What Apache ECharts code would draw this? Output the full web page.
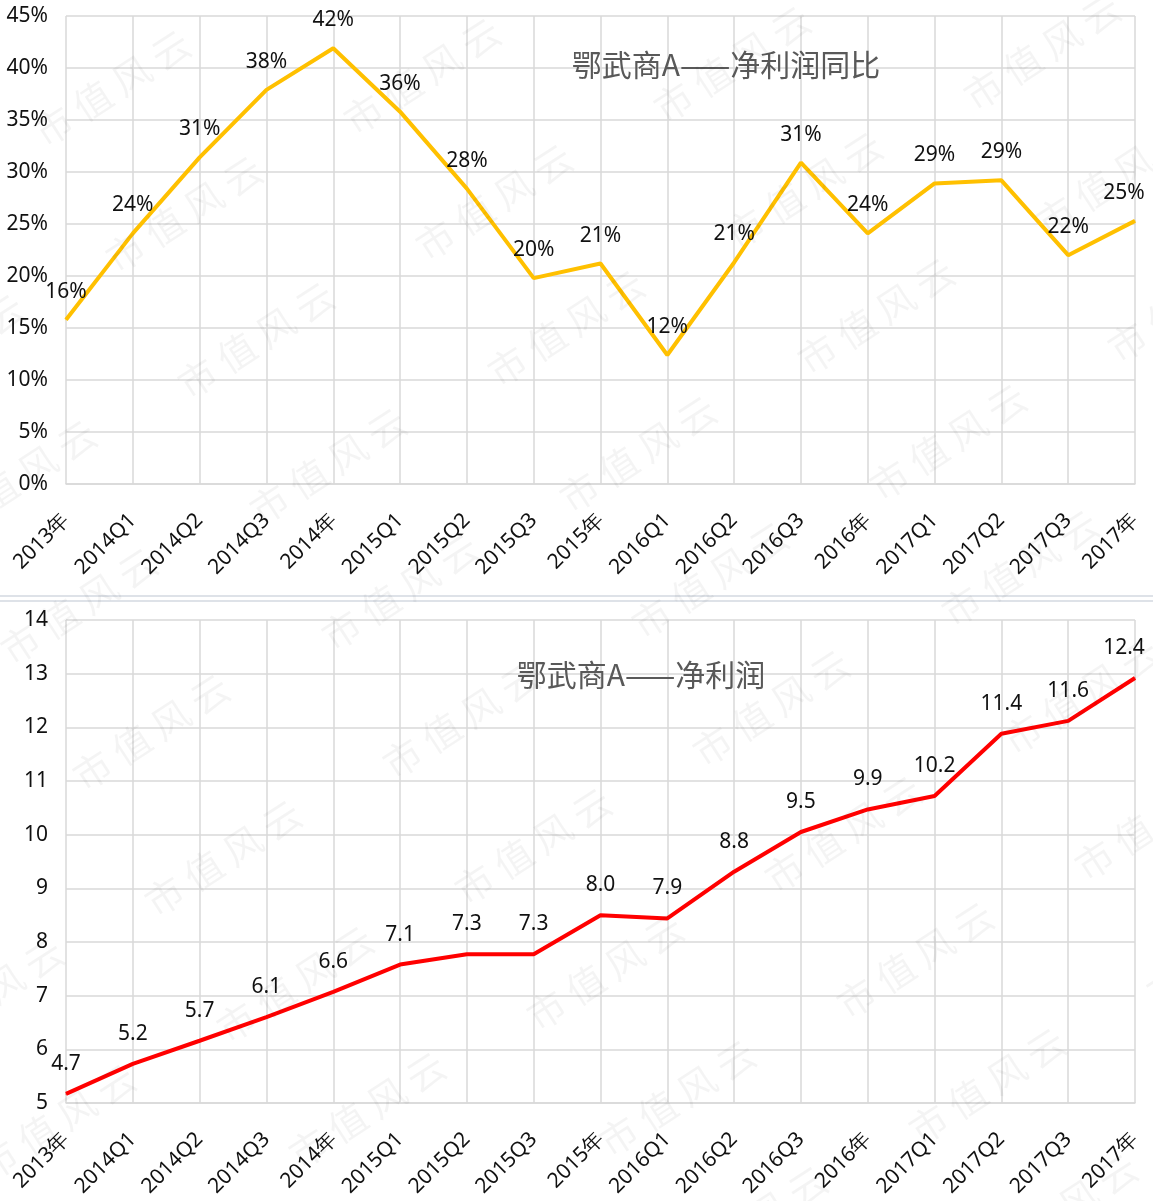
<!DOCTYPE html>
<html>
<head>
<meta charset="utf-8">
<title>鄂武商A 净利润</title>
<script src="https://cdn.jsdelivr.net/npm/echarts@6/dist/echarts.min.js"></script>
<style>
  html, body { margin: 0; padding: 0; background: #fff; }
  #main { width: 1153px; height: 1201px; }
</style>
</head>
<body>
<div id="main"></div>
<script>
"use strict"

// 横轴分类
const categories = ['2013年', '2014Q1', '2014Q2', '2014Q3', '2014年', '2015Q1', '2015Q2', '2015Q3', '2015年',
  '2016Q1', '2016Q2', '2016Q3', '2016年', '2017Q1', '2017Q2', '2017Q3', '2017年'];

// 净利润同比 (%)
const yoyGrowth = [15.8, 24.1, 31.4, 37.9, 41.9, 35.8, 28.4, 19.8, 21.2, 12.4, 21.3, 30.9, 24.1, 28.9, 29.2, 22.0, 25.3];

// 净利润: 折线所在位置 与 标注文字 (原图两者相差约0.5)
const profitLine = [5.17, 5.73, 6.16, 6.6, 7.07, 7.58, 7.77, 7.77, 8.5, 8.44, 9.31, 10.05, 10.47, 10.72, 11.88, 12.12, 12.92];
const profitLabels = [4.7, 5.2, 5.7, 6.1, 6.6, 7.1, 7.3, 7.3, 8.0, 7.9, 8.8, 9.5, 9.9, 10.2, 11.4, 11.6, 12.4];

const yoyTicks = [0, 45, 5];     // min, max, interval
const profitTicks = [5, 14, 1];

const FONT = 'Noto Sans';
const TXT = '#111';
const GRID = '#d9d9d9';

var chart = echarts.init(document.getElementById('main'));

function xAxisOf(gi) {
  return {
    type: 'category',
    gridIndex: gi,
    data: categories,
    boundaryGap: false,
    axisLine: { lineStyle: { color: GRID, width: 1.5 } },
    axisTick: { show: false },
    splitLine: { show: true, lineStyle: { color: GRID, width: 1.5 } },
    axisLabel: {
      rotate: 45, interval: 0, margin: 33, color: TXT,
      fontFamily: FONT, fontSize: 21
    }
  };
}

function yAxisOf(gi, t, fmt) {
  return {
    type: 'value',
    gridIndex: gi,
    min: t[0], max: t[1], interval: t[2],
    axisLine: { show: false },
    axisTick: { show: false },
    splitLine: { lineStyle: { color: GRID, width: 1.5 } },
    axisLabel: { margin: 18, color: TXT, fontFamily: FONT, fontSize: 21, formatter: fmt }
  };
}

function lastShift(arr) {
  return arr.map(function (v, i) {
    if (i === arr.length - 1) return { value: v, label: { offset: [-11, 0] } };
    return v;
  });
}

// 水印 市值风云
function watermarks() {
  var out = [];
  var blocks = [
    { ox: 112, oy: 88, ymin: -20, ymax: 600 },
    { ox: 151, oy: 732, ymin: 600, ymax: 1230 }
  ];
  blocks.forEach(function (b) {
    for (var i = -4; i <= 5; i++) {
      for (var j = -6; j <= 6; j++) {
        var x = b.ox + i * 310 + j * 72;
        var y = b.oy - i * 12 + j * 126;
        if (y < b.ymin || y > b.ymax || x < -80 || x > 1240) continue;
        out.push({
          type: 'text', x: x, y: y, rotation: 33 * Math.PI / 180, z: 100, silent: true,
          style: {
            text: '市 值 风 云', fill: 'rgba(0,0,0,0.045)', fontSize: 38,
            fontFamily: 'Noto Sans CJK SC', align: 'center', verticalAlign: 'middle'
          }
        });
      }
    }
  });
  return out;
}

var option = {
  backgroundColor: '#fff',
  animation: false,
  title: [
    {
      text: '鄂武商A——净利润同比', left: 721, top: 60, textAlign: 'center', textVerticalAlign: 'middle',
      textStyle: { color: '#595959', fontSize: 30, fontWeight: 'normal', fontFamily: 'Noto Sans CJK SC' }
    },
    {
      text: '鄂武商A——净利润', left: 636, top: 670, textAlign: 'center', textVerticalAlign: 'middle',
      textStyle: { color: '#595959', fontSize: 30, fontWeight: 'normal', fontFamily: 'Noto Sans CJK SC' }
    }
  ],
  grid: [
    { left: 66, right: 18, top: 16, height: 468 },
    { left: 66, right: 18, top: 620, height: 483 }
  ],
  xAxis: [xAxisOf(0), xAxisOf(1)],
  yAxis: [
    yAxisOf(0, yoyTicks, '{value}%'),
    yAxisOf(1, profitTicks, '{value}')
  ],
  series: [
    {
      name: '净利润同比',
      type: 'line',
      xAxisIndex: 0, yAxisIndex: 0,
      data: lastShift(yoyGrowth),
      symbol: 'circle', symbolSize: 1,
      lineStyle: { color: '#FFC000', width: 4 },
      itemStyle: { color: '#FFC000' },
      label: {
        show: true, position: 'top', distance: 17, color: TXT, fontFamily: FONT, fontSize: 21,
        formatter: function (p) { return Math.round(yoyGrowth[p.dataIndex]) + '%'; }
      }
    },
    {
      name: '净利润',
      type: 'line',
      xAxisIndex: 1, yAxisIndex: 1,
      data: lastShift(profitLine),
      symbol: 'circle', symbolSize: 1,
      lineStyle: { color: '#FF0000', width: 4 },
      itemStyle: { color: '#FF0000' },
      label: {
        show: true, position: 'top', distance: 19, color: TXT, fontFamily: FONT, fontSize: 21,
        formatter: function (p) { return profitLabels[p.dataIndex].toFixed(1); }
      }
    }
  ],
  graphic: [
    { type: 'line', z: 50, silent: true, shape: { x1: 0, y1: 596, x2: 1153, y2: 596 }, style: { stroke: '#d3d8e0', lineWidth: 1.5 } },
    { type: 'line', z: 50, silent: true, shape: { x1: 0, y1: 601, x2: 1153, y2: 601 }, style: { stroke: '#d3d8e0', lineWidth: 1.5 } }
  ].concat(watermarks())
};

chart.setOption(option);
</script>
</body>
</html>
